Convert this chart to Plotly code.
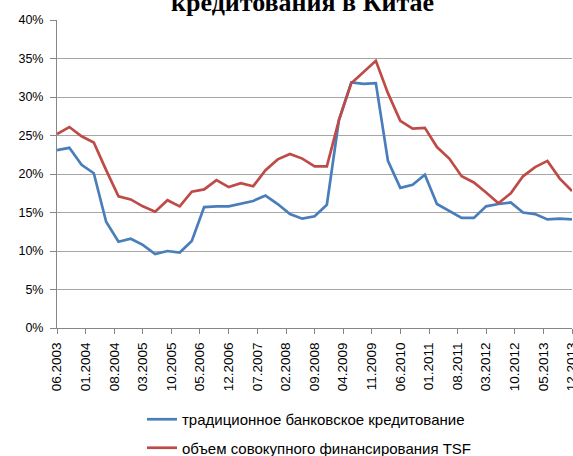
import plotly.graph_objects as go

dates = ["2003-06", "2003-09", "2003-12",
         "2004-03", "2004-06", "2004-09", "2004-12",
         "2005-03", "2005-06", "2005-09", "2005-12",
         "2006-03", "2006-06", "2006-09", "2006-12",
         "2007-03", "2007-06", "2007-09", "2007-12",
         "2008-03", "2008-06", "2008-09", "2008-12",
         "2009-03", "2009-06", "2009-09", "2009-12",
         "2010-03", "2010-06", "2010-09", "2010-12",
         "2011-03", "2011-06", "2011-09", "2011-12",
         "2012-03", "2012-06", "2012-09", "2012-12",
         "2013-03", "2013-06", "2013-09", "2013-12"]

bank_loans = [23.1, 23.4, 21.2, 20.1, 13.8, 11.2, 11.6, 10.8, 9.6, 10.0,
              9.8, 11.3, 15.7, 15.8, 15.8, 16.1, 16.5, 17.2, 16.1, 14.8,
              14.2, 14.5, 16.0, 27.0, 31.9, 31.7, 31.8, 21.7, 18.2, 18.6,
              19.9, 16.1, 15.2, 14.3, 14.3, 15.8, 16.1, 16.3, 15.0, 14.8,
              14.1, 14.2, 14.1]

tsf = [25.2, 26.1, 24.9, 24.1, 20.5, 17.1, 16.7, 15.8, 15.1, 16.6,
       15.8, 17.7, 18.0, 19.2, 18.3, 18.8, 18.4, 20.5, 21.9, 22.6,
       22.0, 21.0, 21.0, 27.0, 31.8, 33.3, 34.7, 30.5, 26.9, 25.9,
       26.0, 23.5, 22.0, 19.7, 18.9, 17.6, 16.2, 17.5, 19.7, 20.9,
       21.7, 19.4, 17.8]

tick_dates = ["2003-06", "2004-01", "2004-08", "2005-03", "2005-10", "2006-05",
              "2006-12", "2007-07", "2008-02", "2008-09", "2009-04", "2009-11",
              "2010-06", "2011-01", "2011-08", "2012-03", "2012-10", "2013-05",
              "2013-12"]
tick_labels = ["06.2003", "01.2004", "08.2004", "03.2005", "10.2005", "05.2006",
               "12.2006", "07.2007", "02.2008", "09.2008", "04.2009", "11.2009",
               "06.2010", "01.2011", "08.2011", "03.2012", "10.2012", "05.2013",
               "12.2013"]

y_ticks = [0, 5, 10, 15, 20, 25, 30, 35, 40]
y_labels = ["0%", "5%", "10%", "15%", "20%", "25%", "30%", "35%", "40%"]

name_bank = "традиционное банковское кредитование"
name_tsf = "объем совокупного финансирования TSF"
title_text = "кредитования в Китае"

fig = go.Figure()
fig.add_trace(go.Scatter(x=dates, y=bank_loans, mode="lines", name=name_bank,
                         line=dict(color="#4a7ebb", width=2.7), legendgroup="a"))
fig.add_trace(go.Scatter(x=dates, y=tsf, mode="lines", name=name_tsf,
                         line=dict(color="#be4b48", width=2.7), legendgroup="b"))

fig.update_layout(
    width=573, height=456,
    margin=dict(l=57, r=1, t=20, b=128, autoexpand=False),
    paper_bgcolor="white", plot_bgcolor="white",
    font=dict(family="Liberation Sans", size=13, color="#000000"),
    showlegend=True,
    legend=dict(orientation="v", xref="container", x=142 / 573, xanchor="left",
                yref="container", y=1 - 403 / 456, yanchor="top",
                font=dict(size=15), tracegroupgap=6, bgcolor="rgba(0,0,0,0)"),
    annotations=[dict(text="<b>" + title_text + "</b>", xref="paper", yref="paper",
                      x=0.477, y=1, xanchor="center", yanchor="bottom", yshift=1,
                      showarrow=False,
                      font=dict(family="Liberation Serif", size=26, color="#000000"))],
)

fig.update_xaxes(
    type="date", range=["2003-06-01", "2013-12-01"], automargin=False,
    tickvals=tick_dates, ticktext=tick_labels, tickangle=-90,
    ticks="outside", ticklen=5, tickcolor="#868686",
    showline=True, linecolor="#868686", linewidth=1,
    showgrid=False, zeroline=False, ticklabeloverflow="allow",
    tickfont=dict(size=13.5), ticklabelstandoff=3,
)
fig.update_yaxes(
    range=[0, 40], tickvals=y_ticks, ticktext=y_labels, automargin=False,
    ticks="outside", ticklen=6, tickcolor="#868686",
    showline=True, linecolor="#868686", linewidth=1,
    showgrid=True, gridcolor="#a6a6a6", gridwidth=1,
    zeroline=False, tickfont=dict(size=12.5), ticklabelstandoff=4,
)

fig.write_html("out.html", config={"displayModeBar": False},
               post_script="document.body.style.margin='0';document.body.style.overflow='hidden';")
